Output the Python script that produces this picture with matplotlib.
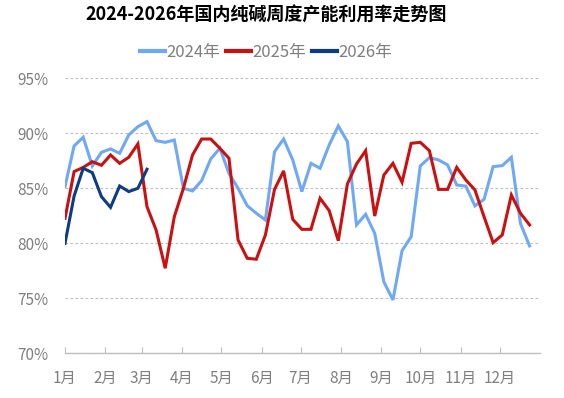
import numpy as np
import matplotlib
matplotlib.use("Agg")
import matplotlib.pyplot as plt

plt.rcParams['font.family'] = ['Noto Sans CJK SC', 'DejaVu Sans']

title = "2024-2026年国内纯碱周度产能利用率走势图"
series_names = ["2024年", "2025年", "2026年"]
month_labels = [f"{m}月" for m in range(1, 13)]
month_start_days = [0, 31, 59, 90, 120, 151, 181, 212, 243, 273, 304, 334]
yticks = [70, 75, 80, 85, 90, 95]

v2024 = [85.15, 88.85, 89.64, 87.03, 88.27, 88.58, 88.18, 89.85, 90.6, 91.06,
         89.33, 89.18, 89.39, 85.0, 84.76, 85.7, 87.67, 88.64, 86.36, 85.0,
         83.42, 82.73, 82.12, 88.33, 89.48, 87.58, 84.7, 87.27, 86.82, 88.94,
         90.67, 89.24, 81.67, 82.64, 80.9, 76.5, 74.85, 79.33, 80.6, 87.03,
         87.79, 87.58, 87.12, 85.3, 85.2, 83.4, 84.0, 86.97, 87.06, 87.82,
         81.8, 79.76]
v2025 = [82.27, 86.52, 86.9, 87.42, 87.09, 88.03, 87.27, 87.82, 89.03, 83.33,
         81.21, 77.73, 82.42, 85.0, 88.03, 89.48, 89.48, 88.64, 87.73, 80.3,
         78.64, 78.55, 80.76, 84.9, 86.58, 82.18, 81.27, 81.27, 84.09, 82.97,
         80.24, 85.39, 87.21, 88.42, 82.48, 86.2, 87.27, 85.55, 89.09, 89.18,
         88.42, 84.9, 84.9, 86.9, 85.76, 84.85, 82.42, 80.06, 80.76, 84.39,
         82.73, 81.67]
v2026 = [80.0, 84.3, 86.82, 86.42, 84.24, 83.27, 85.21, 84.7, 85.0, 86.73]

colors = ["#6EA8F7", "#CC1010", "#0C3C84"]
values = [v2024, v2025, v2026]

fig = plt.figure(figsize=(5.64, 3.98), dpi=100)
ax = fig.add_axes([65/564, 1 - 353.3/398, 475/564, 275/398])

for name, vals, c in zip(series_names, values, colors):
    x = np.arange(len(vals)) * 7
    ax.plot(x, vals, color=c, lw=2.2, label=name, solid_joinstyle='miter')

ax.set_xlim(0, 365)
ax.set_ylim(70, 95)
ax.set_yticks(yticks)
ax.set_yticklabels([f"{t}%" for t in yticks])
ax.set_xticks(month_start_days)
ax.set_xticklabels(month_labels)

for s in ["top", "right", "left"]:
    ax.spines[s].set_visible(False)
ax.spines["bottom"].set_color("#bfbfbf")
ax.spines["bottom"].set_linewidth(1.0)
ax.grid(axis='y', color="#bfbfbf", linestyle=(0, (2.5, 2)), linewidth=0.8)
ax.set_axisbelow(True)
ax.tick_params(axis='y', length=0, pad=12, labelsize=11, labelcolor="#7f7f7f")
ax.tick_params(axis='x', direction='in', length=4, color="#bfbfbf",
               pad=12, labelsize=11, labelcolor="#7f7f7f")

fig.text(266/564, 1 - 15/398, title, ha='center', va='center',
         fontsize=13, fontweight='bold', color='black')
leg = fig.legend(loc='center', bbox_to_anchor=(266/564, 1 - 52/398), ncol=3,
                 frameon=False, fontsize=12, handlelength=1.5, handletextpad=0.1,
                 columnspacing=0.35, labelcolor="#7f7f7f")
for line in leg.get_lines():
    line.set_linewidth(3)

fig.savefig("out.png", dpi=100)
